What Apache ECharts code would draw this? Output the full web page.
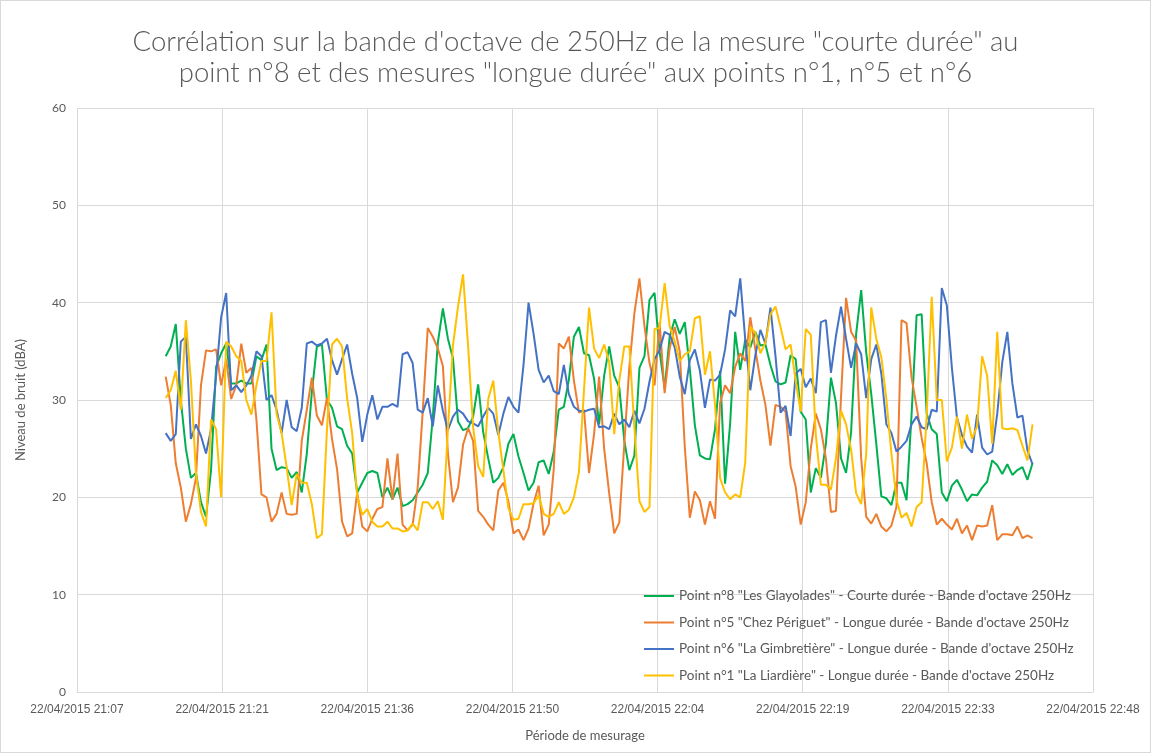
<!DOCTYPE html>
<html>
<head>
<meta charset="utf-8">
<script src="https://cdn.jsdelivr.net/npm/echarts@6/dist/echarts.min.js"></script>
<style>
  html, body { margin: 0; padding: 0; background: #ffffff; }
  #chart { width: 1151px; height: 753px; box-sizing: border-box; border: 1px solid #d9d9d9; background: #fff; }
</style>
</head>
<body>
<div id="chart"></div>
<script>
// Sampling: one value every 30 s, starting 22/04/2015 21:16 (minutes since midnight)
const sampleStart = 21 * 60 + 16;
const sampleStep = 0.5;
const datePrefix = '22/04/2015';

const seriesNames = [
  'Point n°8 "Les Glayolades" - Courte durée - Bande d\'octave 250Hz',
  'Point n°5 "Chez Périguet" - Longue durée - Bande d\'octave 250Hz',
  'Point n°6 "La Gimbretière" - Longue durée - Bande d\'octave 250Hz',
  'Point n°1 "La Liardière" - Longue durée - Bande d\'octave 250Hz'
];

// Point n°8 – courte durée (dBA)
const glayolades = [
  34.5, 35.5, 37.8, 30, 25, 22, 22.5, 19.5, 18, 22.8,
  33.4, 34.8, 35.8, 31.7, 31.7, 32, 31.7, 31.7, 34.5, 34.1,
  35.7, 25, 22.8, 23.1, 23, 22, 22.6, 20.5, 24.5, 30.8,
  35.5, 35.7, 30, 29.2, 27.3, 27, 25.3, 24.5, 20.5, 21.5,
  22.5, 22.7, 22.5, 20, 21, 19.8, 21, 19.1, 19.3, 19.7,
  20.5, 21.3, 22.5, 28.2, 35.9, 39.4, 36.3, 34.3, 27.8, 26.9,
  27.1, 28.3, 31.6, 26.7, 24, 21.5, 22, 23.1, 25.5, 26.5,
  24.2, 22.5, 20.7, 21.5, 23.6, 23.8, 22.4, 24.7, 29, 29.3,
  32.1, 36.5, 37.5, 34.8, 34.6, 32.2, 27.5, 32.5, 35.5, 32.5,
  31.3, 25.8, 22.8, 24.3, 33.3, 34.5, 40.3, 41, 35, 31.2,
  36.5, 38.3, 36.8, 38, 33.2, 27.4, 24.3, 24, 23.9, 27,
  33, 21.4, 27.6, 37, 33.1, 36.2, 35.4, 37, 35.6, 35.7,
  33.6, 31.9, 31.6, 31.8, 34.6, 34.2, 28.8, 28, 20.5, 23,
  22, 25.5, 32.3, 29.7, 24, 22.5, 26.7, 36.8, 41.3, 34.9,
  30.6, 25.5, 20.1, 19.9, 19.2, 21.5, 21.5, 19.7, 28.5, 38.7,
  38.8, 28.6, 27, 26.5, 20.5, 19.6, 21.2, 21.8, 20.8, 19.6,
  20.3, 20.2, 21, 21.6, 23.8, 23.3, 22.4, 23.4, 22.3, 22.8,
  23.1, 21.8, 23.5
];

// Point n°5 – longue durée (dBA)
const periguet = [
  32.4, 29.5, 23.5, 21, 17.5, 19.3, 22, 31.5, 35.1, 35,
  35.2, 31.5, 34.2, 30.1, 31.5, 35.8, 32.8, 33.3, 28, 20.3,
  20, 17.5, 18.3, 20.5, 18.3, 18.2, 18.3, 25.8, 29, 32.3,
  28.4, 27.4, 30.2, 26, 22.9, 17.5, 16, 16.3, 20.5, 17,
  16.5, 17.8, 18.8, 19, 24, 19.8, 24.5, 17.2, 16.6, 17.2,
  21, 28.8, 37.4, 36.5, 35.3, 33.5, 24.5, 19.5, 21, 25.4,
  27.1, 25.8, 18.6, 18, 17.2, 16.6, 20.7, 21.5, 19.6, 16.3,
  16.7, 15.6, 16.8, 19.4, 21.2, 16.1, 17.2, 22.9, 35.8, 35.3,
  36.5, 32, 28.7, 29, 22.5, 26.5, 32.4, 25, 20.4, 16.3,
  17.4, 25.5, 33.4, 38.9, 42.5, 37.6, 33.8, 31.5, 38, 30.7,
  35.3, 37.5, 35, 25.2, 17.9, 20.6, 19.7, 17.2, 19.6, 17.8,
  29.7, 31.5, 30.7, 33.4, 34.8, 34, 38.5, 35.2, 32, 29.5,
  25.3, 29.5, 29.3, 28.8, 23.2, 21.1, 17.2, 19.5, 25, 28.6,
  27, 24, 18.5, 18.6, 30.3, 40.5, 37, 36.1, 24, 18,
  17.3, 18.3, 17, 16.5, 17.1, 19, 38.2, 37.9, 32.3, 29.3,
  26.1, 23.5, 19.5, 17.2, 17.8, 17.2, 16.7, 17.8, 16.3, 17.1,
  15.6, 17.1, 17, 17.1, 19.2, 15.6, 16.2, 16.2, 16.1, 17,
  15.8, 16.1, 15.8
];

// Point n°6 – longue durée (dBA)
const gimbretiere = [
  26.6, 25.8, 26.5, 36, 36.5, 26, 27.5, 26.3, 24.5, 27,
  32.5, 38.5, 41, 31, 31.5, 30.8, 31.5, 32.5, 35, 34.5,
  30, 30.5, 29, 26.6, 30, 27.2, 26.8, 29.2, 35.8, 36,
  35.6, 35.8, 36.3, 34.1, 32.6, 34.2, 35.7, 32.7, 30.2, 25.7,
  28.5, 30.5, 28, 29.3, 29.3, 29.6, 29.3, 34.7, 34.9, 33.8,
  29, 28.7, 30.2, 27.3, 31.5, 28.9, 26.9, 28.3, 29, 28.6,
  27.8, 27.6, 27.3, 28.3, 29.2, 28.6, 26.4, 28.6, 30.3, 29.3,
  28.7, 33.6, 40, 36.8, 33.1, 31.8, 32.5, 30.9, 30.6, 33.6,
  30.6, 29.3, 28.9, 28.8, 29, 29.1, 27.2, 27.3, 27, 28.6,
  27.5, 28, 27.2, 28.9, 27.6, 29.1, 31.9, 34.2, 35.1, 37,
  36.7, 35.4, 32.4, 30.6, 34.1, 35.2, 33, 29.2, 32.1, 32,
  32.6, 35.2, 39.2, 38.6, 42.5, 36.2, 31, 34.6, 37.2, 35.8,
  39.5, 34.5, 28.7, 29.4, 26.3, 32.7, 33.2, 31.3, 32.2, 30.7,
  38, 38.2, 32.8, 36.6, 39.6, 36.3, 33.3, 35.8, 34.7, 30.2,
  34.2, 35.7, 32.7, 27.5, 26.6, 24.7, 25.2, 25.8, 27.5, 28.3,
  27.2, 27, 29, 28.8, 41.5, 39.7, 33.3, 28.2, 26.4, 25.2,
  24.6, 28.5, 25.1, 24.4, 24.7, 28.6, 33.9, 37, 31.7, 28.2,
  28.4, 24.8, 23.4
];

// Point n°1 – longue durée (dBA)
const liardiere = [
  30.2, 31, 33, 29, 38.2, 32, 22.5, 18.5, 17, 28,
  27, 20, 36, 35.5, 34.5, 34, 30, 28.5, 31.5, 34,
  34, 39, 28.6, 26.6, 23.1, 19.2, 22.4, 21.5, 21.5, 19.3,
  15.8, 16.2, 27, 35.7, 36.3, 35.5, 30.2, 26.6, 20.1, 18.2,
  18.8, 17.5, 17, 17, 17.5, 16.8, 16.8, 16.5, 16.6, 17.3,
  16.6, 19.5, 19.5, 18.8, 19.6, 17.7, 27, 35.6, 39.6, 42.9,
  35.6, 27.2, 23.2, 22.1, 30.1, 32, 26.7, 22.8, 18.9, 17.7,
  17.8, 19.3, 19.3, 19.4, 20.2, 18.3, 18, 18.3, 19.5, 18.3,
  18.7, 20, 22.6, 31, 39.5, 35.3, 34.3, 35.7, 33.9, 26.5,
  32, 35.5, 35.5, 27.2, 19.6, 18.5, 19, 37.3, 37.4, 42,
  37.6, 36, 34, 34.7, 35, 38.4, 38.6, 32.6, 35, 29.5,
  22, 20.5, 19.8, 20.3, 20, 23.6, 37.5, 36.9, 34.8, 35.9,
  38.8, 39.6, 37.5, 35.2, 35.7, 32, 28.8, 37.3, 36.7, 26.4,
  21.3, 21.3, 20.8, 24, 28.9, 27.5, 24.9, 20.4, 19.3, 24.5,
  39.5, 36.3, 34.4, 30.1, 24.5, 19.8, 17.9, 18.4, 17, 19,
  19.5, 28.4, 40.6, 30, 30, 23.7, 25.1, 28.3, 25, 28.5,
  26, 27.3, 34.5, 32.5, 25.5, 37, 27.1, 27, 27.1, 26.9,
  25.3, 23.8, 27.5
];

const seriesValues = [glayolades, periguet, gimbretiere, liardiere];
const seriesColors = ['#00b050', '#ed7d31', '#4472c4', '#ffc000'];

// Time axis in minutes since midnight: 0.01 day steps from 21:07:12 to 22:48
const axisMin = 1267.2;
const axisMax = 1368;
const axisStep = 14.4;

function pad(n) { return (n < 10 ? '0' : '') + n; }
function clockLabel(minutes) {
  const m = Math.floor(minutes + 0.001);
  return datePrefix + ' ' + pad(Math.floor(m / 60)) + ':' + pad(m % 60);
}

const textColor = '#595959';
const gridColor = '#d9d9d9';

const chart = echarts.init(document.getElementById('chart'), null, { renderer: 'canvas' });

chart.setOption({
  animation: false,
  backgroundColor: '#ffffff',
  title: {
    text: 'Corrélation sur la bande d\'octave de 250Hz de la mesure "courte durée" au\npoint n°8 et des mesures "longue durée" aux points n°1, n°5 et n°6',
    left: 'center',
    top: 21,
    textStyle: {
      color: textColor,
      fontFamily: 'Lato',
      fontWeight: 300,
      fontSize: 27.5,
      lineHeight: 31
    }
  },
  legend: {
    orient: 'vertical',
    left: 638,
    top: 583,
    icon: 'rect',
    itemWidth: 30,
    itemHeight: 2,
    itemGap: 12.5,
    textStyle: { color: textColor, fontFamily: 'Lato', fontSize: 13.5 },
    data: seriesNames
  },
  grid: { left: 76, right: 57, top: 107, bottom: 60, containLabel: false },
  xAxis: {
    type: 'value',
    min: axisMin,
    max: axisMax,
    interval: axisStep,
    name: 'Période de mesurage',
    nameLocation: 'middle',
    nameGap: 37,
    nameTextStyle: { color: textColor, fontFamily: 'Lato', fontSize: 13 },
    axisLine: { show: true, lineStyle: { color: gridColor, width: 1 } },
    axisTick: { show: false },
    axisLabel: {
      color: textColor,
      fontFamily: 'Liberation Sans Narrow, sans-serif',
      fontSize: 12,
      margin: 12,
      formatter: clockLabel
    },
    splitLine: { show: true, lineStyle: { color: gridColor, width: 1 } }
  },
  yAxis: {
    type: 'value',
    min: 0,
    max: 60,
    interval: 10,
    name: 'Niveau de bruit (dBA)',
    nameLocation: 'middle',
    nameGap: 50,
    nameTextStyle: { color: textColor, fontFamily: 'Lato', fontSize: 13 },
    axisLine: { show: false },
    axisTick: { show: false },
    axisLabel: { color: textColor, fontFamily: 'Lato', fontSize: 12, margin: 11 },
    splitLine: { show: true, lineStyle: { color: gridColor, width: 1 } }
  },
  series: seriesValues.map((values, k) => ({
    name: seriesNames[k],
    type: 'line',
    showSymbol: false,
    symbol: 'none',
    color: seriesColors[k],
    lineStyle: { width: 2, color: seriesColors[k] },
    data: values.map((v, i) => [sampleStart + i * sampleStep, v])
  }))
});
</script>
</body>
</html>
